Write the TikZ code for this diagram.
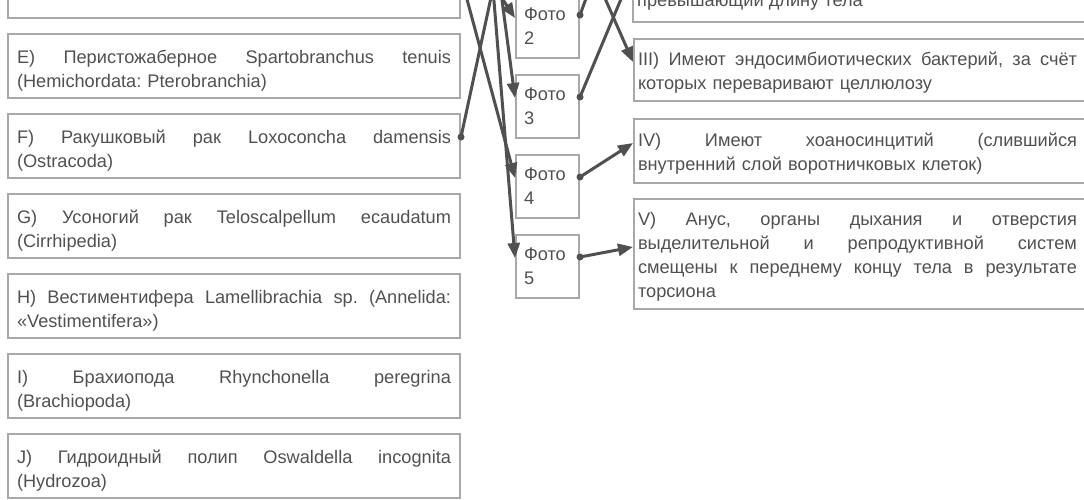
\documentclass[tikz,border=0pt]{standalone}
\usepackage{fontspec}
\setmainfont{Liberation Sans}
\usetikzlibrary{arrows.meta,calc}
\definecolor{boxgray}{HTML}{A8A8A8}
\definecolor{txtgray}{HTML}{505050}
\definecolor{linegray}{HTML}{505050}
\newcommand{\jL}[1]{\leavevmode\rule{0pt}{23.5pt}\hbox to 434pt{#1}}
\newcommand{\jR}[1]{\leavevmode\hbox to 439pt{#1}}
\newcommand{\sR}{\rule{0pt}{19.5pt}}
\begin{document}
\begin{tikzpicture}[x=1pt,y=-1pt,
  txt/.style={font=\fontsize{18.2}{24}\selectfont\frenchspacing, text=txtgray},
  lbox/.style={txt, draw=boxgray, line width=2pt, anchor=north west, minimum height=64pt, text width=434pt, inner xsep=9pt, inner ysep=4pt, align=left},
  fbox/.style={txt, draw=boxgray, line width=2pt, anchor=north west, minimum width=63pt, minimum height=63pt, text width=47pt, inner xsep=8pt, inner ysep=4pt, align=left},
  rbox/.style={txt, draw=boxgray, line width=2pt, anchor=north west, minimum height=64pt, text width=451pt, inner xsep=4pt, inner ysep=4pt, align=left},
  conn/.style={draw=linegray, line width=3pt, -{Triangle[length=15pt,width=12pt]}},
  dotc/.style={fill=linegray}]
\useasboundingbox (0,0) rectangle (1084,499);
\clip (0,0) rectangle (1084,499);
% left column
\node[lbox] (D) at (7,-47) {};
\node[lbox] (E) at (7,33) {\jL{E)\hfill Перистожаберное\hfill Spartobranchus\hfill tenuis}\\(Hemichordata: Pterobranchia)};
\node[lbox] (F) at (7,113) {\jL{F)\hfill Ракушковый\hfill рак\hfill Loxoconcha\hfill damensis}\\(Ostracoda)};
\node[lbox] (G) at (7,193) {\jL{G)\hfill Усоногий\hfill рак\hfill Teloscalpellum\hfill ecaudatum}\\(Cirrhipedia)};
\node[lbox] (H) at (7,273) {\jL{H)\hfill Вестиментифера\hfill Lamellibrachia\hfill sp.\hfill (Annelida:}\\«Vestimentifera»)};
\node[lbox] (I) at (7,353) {\jL{I)\hfill Брахиопода\hfill Rhynchonella\hfill peregrina}\\(Brachiopoda)};
\node[lbox] (J) at (7,433) {\jL{J)\hfill Гидроидный\hfill полип\hfill Oswaldella\hfill incognita}\\(Hydrozoa)};
% middle column
\node[fbox] (P2) at (515,-6) {Фото\\2};
\node[fbox] (P3) at (515,74) {Фото\\3};
\node[fbox] (P4) at (515,154) {Фото\\4};
\node[fbox] (P5) at (515,234) {Фото\\5};
% right column
\draw[draw=boxgray, line width=2pt] (633,-80) rectangle (1093,22);
\node[txt, anchor=base west, inner sep=0pt] (IIt) at (637,6) {превышающий длину тела};
\node[rbox, minimum height=62pt] (R3) at (633,38) {\sR\jR{III)\hfill Имеют\hfill эндосимбиотических\hfill бактерий,\hfill за\hfill счёт}\\которых переваривают целлюлозу};
\node[rbox] (R4) at (633,118) {\sR\jR{IV)\hfill Имеют\hfill хоаносинцитий\hfill (слившийся}\\внутренний слой воротничковых клеток)};
\node[rbox, minimum height=110pt] (R5) at (633,198) {\sR\jR{V)\hfill Анус,\hfill органы\hfill дыхания\hfill и\hfill отверстия}\\\jR{выделительной\hfill и\hfill репродуктивной\hfill систем}\\\jR{смещены\hfill к\hfill переднему\hfill концу\hfill тела\hfill в\hfill результате}\\торсиона};
% off-picture ends
\coordinate (P1in) at (504,-63);
\coordinate (P1out) at (578,-63);
\coordinate (S2) at (490,-20);
\coordinate (S3) at (494,-60);
\coordinate (S5) at (489,-60);
\coordinate (T2) at (600,-40);
\coordinate (T3) at (647,-63);
% anchors
\coordinate (Fo) at ($(F.north east)+(0,24)$);
\coordinate (Do) at ($(D.north east)+(0,24)$);
\coordinate (P2i) at ($(P2.north west)+(0,24)$);
\coordinate (P3i) at ($(P3.north west)+(0,24)$);
\coordinate (P4i) at ($(P4.north west)+(0,24)$);
\coordinate (P5i) at ($(P5.north west)+(0,24)$);
\coordinate (P2o) at ($(P2.north east)+(0,21)$);
\coordinate (P3o) at ($(P3.north east)+(0,23)$);
\coordinate (P4o) at ($(P4.north east)+(0,23)$);
\coordinate (P5o) at ($(P5.north east)+(0,23)$);
\coordinate (R3i) at ($(R3.north west)+(0,24)$);
\coordinate (R4i) at ($(R4.north west)+(0,25)$);
\coordinate (R5i) at ($(R5.north west)+(0,49)$);
% connectors
\draw[conn] (Fo) -- (P1in);
\draw[conn] (S2) -- (P2i);
\draw[conn] (S3) -- (P3i);
\draw[conn] (Do) -- (P4i);
\draw[conn] (S5) -- (P5i);
\draw[conn] (P1out) -- (R3i);
\draw[conn] (P2o) -- (T2);
\draw[conn] (P3o) -- (T3);
\draw[conn] (P4o) -- (R4i);
\draw[conn] (P5o) -- (R5i);
\foreach \p in {Fo,P2o,P3o,P4o,P5o} \fill[dotc] (\p) circle (3.5pt);
\end{tikzpicture}
\end{document}
